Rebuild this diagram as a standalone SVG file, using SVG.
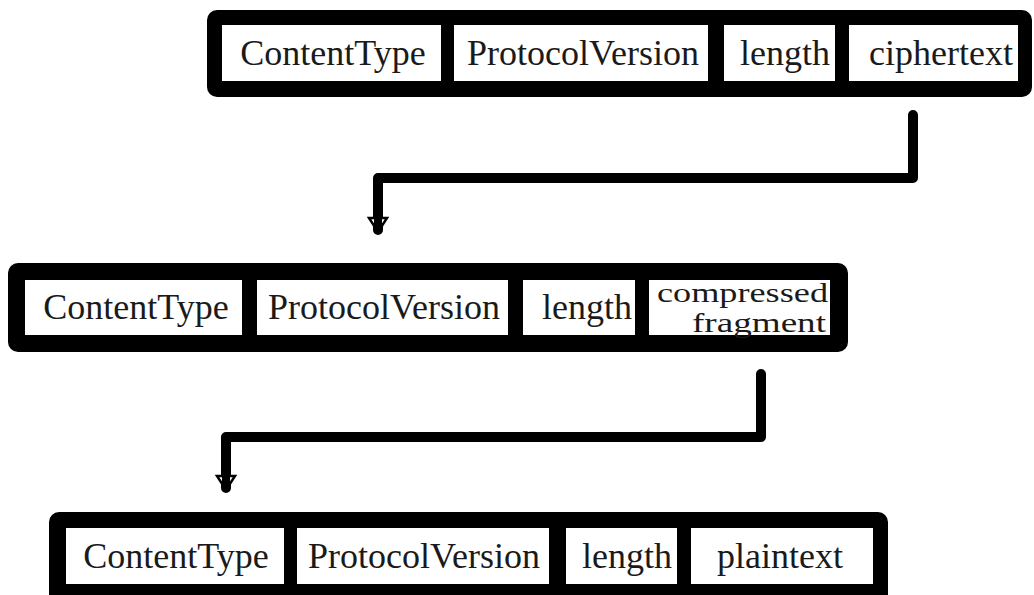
<svg xmlns="http://www.w3.org/2000/svg" width="1034" height="595" viewBox="0 0 1034 595">
  <style>
    .frame { fill: #000; }
    .cell { fill: #fff; }
    .lbl { font-family: "Liberation Serif", "Times New Roman", serif; font-size: 36px; fill: #1a1a1a; text-anchor: middle; }
    .lbl2 { font-family: "Liberation Serif", "Times New Roman", serif; font-size: 27px; fill: #1a1a1a; text-anchor: end; }
    .conn { fill: none; stroke: #000; stroke-width: 10; stroke-linejoin: round; stroke-linecap: round; }
    .head { fill: #fff; stroke: #000; stroke-width: 2.5; }
  </style>
  <rect width="1034" height="595" fill="#fff"/>

  <g id="connectors">
    <path class="conn" d="M913,115 L913,178 L378,178 L378,230" />
    <path class="head" d="M369,218 L387,218 L378,232 Z"/>
    <line x1="378" y1="215" x2="378" y2="233" stroke="#000" stroke-width="8"/>
    <path class="conn" d="M761,374 L761,437 L226,437 L226,488" />
    <path class="head" d="M217,476 L235,476 L226,490 Z"/>
    <line x1="226" y1="473" x2="226" y2="491" stroke="#000" stroke-width="8"/>
  </g>

  <g id="record-ciphertext">
    <rect class="frame" x="207" y="10" width="825" height="87" rx="10"/>
    <rect class="cell" x="222" y="25" width="219" height="56"/>
    <rect class="cell" x="454" y="25" width="254" height="56"/>
    <rect class="cell" x="724" y="25" width="111" height="56"/>
    <rect class="cell" x="849" y="25" width="169" height="56"/>
    <text class="lbl" x="333" y="65">ContentType</text>
    <text class="lbl" x="583" y="65">ProtocolVersion</text>
    <text class="lbl" x="785" y="65">length</text>
    <text class="lbl" x="941" y="65">ciphertext</text>
  </g>

  <g id="record-compressed">
    <rect class="frame" x="8" y="263" width="840" height="89" rx="10"/>
    <rect class="cell" x="25" y="280" width="217" height="55"/>
    <rect class="cell" x="257" y="280" width="251" height="55"/>
    <rect class="cell" x="523" y="280" width="112" height="55"/>
    <rect class="cell" x="649" y="280" width="181" height="55"/>
    <text class="lbl" x="136" y="319">ContentType</text>
    <text class="lbl" x="384" y="319">ProtocolVersion</text>
    <text class="lbl" x="587" y="319">length</text>
    <text class="lbl2" x="828" y="302" textLength="171" lengthAdjust="spacingAndGlyphs">compressed</text>
    <text class="lbl2" x="826" y="332" textLength="134" lengthAdjust="spacingAndGlyphs">fragment</text>
  </g>

  <g id="record-plaintext">
    <rect class="frame" x="49" y="512" width="839" height="95" rx="10"/>
    <rect class="cell" x="66" y="528" width="218" height="56"/>
    <rect class="cell" x="297" y="528" width="252" height="56"/>
    <rect class="cell" x="566" y="528" width="111" height="56"/>
    <rect class="cell" x="691" y="528" width="182" height="56"/>
    <text class="lbl" x="176" y="568">ContentType</text>
    <text class="lbl" x="424" y="568">ProtocolVersion</text>
    <text class="lbl" x="627" y="568">length</text>
    <text class="lbl" x="780" y="568">plaintext</text>
  </g>
</svg>
